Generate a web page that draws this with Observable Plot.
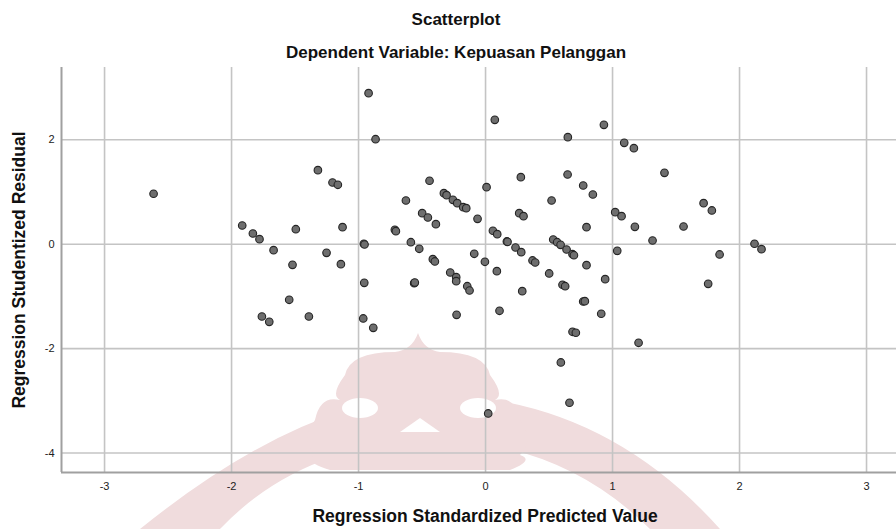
<!DOCTYPE html>
<html>
<head>
<meta charset="utf-8">
<script src="https://cdn.jsdelivr.net/npm/d3@7"></script>
<script src="https://cdn.jsdelivr.net/npm/@observablehq/plot@0.6"></script>
<style>
  html, body { margin: 0; padding: 0; background: #fff; }
  body { width: 896px; height: 529px; position: relative; overflow: hidden; font-family: "Liberation Sans", Arial, sans-serif; }
  .t { position: absolute; font-weight: bold; color: #111; white-space: nowrap; line-height: 1; }
  #chart { position: absolute; left: 0; top: 0; }
  #wm { position: absolute; left: 0; top: 0; }
</style>
</head>
<body>
<svg id="wm" width="896" height="529" viewBox="0 0 896 529">
  <g fill="#f0dcdd">
    <path d="M 140 529 Q 300 400 430 395 Q 600 395 720 529 L 650 529 Q 560 440 430 440 Q 300 445 220 529 Z"/>
    <path d="M 418 333 Q 412 350 395 352 Q 350 352 345 375 Q 330 395 340 400 Q 320 395 315 420 Q 300 440 315 455 Q 300 460 330 470 L 510 470 Q 535 460 520 455 Q 535 440 520 420 Q 515 395 495 400 Q 505 395 490 375 Q 485 352 440 352 Q 424 350 418 333 Z"/>
  </g>
  <g fill="#ffffff">
    <ellipse cx="360" cy="408" rx="18" ry="10"/>
    <ellipse cx="478" cy="408" rx="18" ry="10"/>
    <path d="M 400 432 L 420 418 L 440 432 Z"/>
  </g>
</svg>
<div id="chart"></div>
<div class="t" id="title" style="font-size:17px; left:456px; top:11px; transform:translateX(-50%);">Scatterplot</div>
<div class="t" id="subtitle" style="font-size:17px; left:456px; top:44px; transform:translateX(-50%);">Dependent Variable: Kepuasan Pelanggan</div>
<div class="t" id="xlabel" style="font-size:17.5px; left:485px; top:508px; transform:translateX(-50%);">Regression Standardized Predicted Value</div>
<div class="t" id="ylabel" style="font-size:17.5px; left:11px; top:270px; transform-origin:0 0; transform:rotate(-90deg) translateX(-50%);">Regression Studentized Residual</div>
<script>
// Regression Standardized Predicted Value (x) and Regression Studentized Residual (y)
const predicted = [
  -2.614, -1.916, -1.832, -1.780, -1.669, -1.494, -1.520, -1.546, -1.761, -1.703,
  -1.391, -1.320, -1.252, -1.205, -1.163, -1.139, -1.126, -0.958, -0.953, -0.955,
  -0.963, -0.921, -0.884, -0.866, -0.714, -0.706, -0.627, -0.588, -0.562, -0.557,
  -0.522, -0.499, -0.454, -0.441, -0.415, -0.399, -0.391, -0.328, -0.307, -0.278,
  -0.257, -0.231, -0.231, -0.228, -0.223, -0.176, -0.152, -0.144, -0.126, -0.089,
  -0.063, -0.005, 0.008, 0.021, 0.058, 0.073, 0.089, 0.092, 0.110, 0.168,
  0.173, 0.236, 0.265, 0.278, 0.281, 0.289, 0.299, 0.370, 0.391, 0.501,
  0.520, 0.533, 0.564, 0.591, 0.593, 0.606, 0.627, 0.638, 0.646, 0.648,
  0.661, 0.685, 0.696, 0.685, 0.711, 0.769, 0.769, 0.782, 0.795, 0.795,
  0.845, 0.911, 0.932, 0.942, 1.021, 1.037, 1.071, 1.092, 1.168, 1.176,
  1.205, 1.315, 1.409, 1.559, 1.717, 1.753, 1.782, 1.843, 2.118, 2.173
];
const residual = [
  0.966, 0.358, 0.205, 0.096, -0.115, 0.287, -0.395, -1.065, -1.385, -1.487,
  -1.385, 1.418, -0.165, 1.182, 1.138, -0.383, 0.326, 0.008, -0.006, -0.740,
  -1.423, 2.893, -1.602, 2.011, 0.276, 0.249, 0.837, 0.038, -0.747, -0.735,
  -0.088, 0.594, 0.511, 1.215, -0.287, -0.331, 0.383, 0.977, 0.939, -0.542,
  0.850, -0.632, -0.709, -1.353, 0.786, 0.709, 0.690, -0.805, -0.887, -0.184,
  0.486, -0.337, 1.092, -3.243, 0.257, 2.383, -0.517, 0.192, -1.276, 0.052,
  0.045, -0.063, 0.594, 1.284, -0.153, -0.900, 0.537, -0.312, -0.351, -0.561,
  0.837, 0.090, 0.038, -0.012, -2.266, -0.778, -0.805, -0.102, 1.335, 2.050,
  -3.038, -0.192, -0.211, -1.678, -1.697, 1.124, -1.098, -1.092, 0.326, -0.402,
  0.952, -1.333, 2.287, -0.670, 0.613, -0.127, 0.537, 1.942, 1.839, 0.333,
  -1.889, 0.071, 1.367, 0.339, 0.786, -0.759, 0.646, -0.197, 0.008, -0.096
];
const xTicks = [-3, -2, -1, 0, 1, 2, 3];
const yTicks = [-4, -2, 0, 2];
const xDomain = [-3.339, 3.236];
const yDomain = [-4.374, 3.385];

const points = predicted.map((x, i) => ({x, y: residual[i]}));

const chart = Plot.plot({
  width: 896,
  height: 529,
  marginTop: 67,
  marginBottom: 57,
  marginLeft: 61,
  marginRight: 0,
  style: {fontFamily: "'Liberation Sans', Arial, sans-serif", background: "transparent"},
  x: {domain: xDomain, label: null},
  y: {domain: yDomain, label: null},
  marks: [
    Plot.gridX(xTicks, {stroke: "#c4c4c4", strokeOpacity: 1, strokeWidth: 1.6}),
    Plot.gridY(yTicks, {stroke: "#c4c4c4", strokeOpacity: 1, strokeWidth: 1.6}),
    Plot.ruleX([xDomain[0]], {stroke: "#a0a0a0", strokeWidth: 2}),
    Plot.ruleY([yDomain[0]], {stroke: "#a0a0a0", strokeWidth: 2}),
    Plot.axisX(xTicks, {tickSize: 0, tickPadding: 10, fontSize: 11, fill: "#222", label: null, tickFormat: d => String(d).replace("−", "-")}),
    Plot.axisY(yTicks, {tickSize: 0, tickPadding: 7, fontSize: 11, fill: "#222", label: null, tickFormat: d => String(d).replace("−", "-")}),
    Plot.dot(points, {x: "x", y: "y", r: 3.8, fill: "#6e6e6e", fillOpacity: 1, stroke: "#252525", strokeWidth: 1.1})
  ]
});
document.getElementById("chart").appendChild(chart);
</script>
</body>
</html>
